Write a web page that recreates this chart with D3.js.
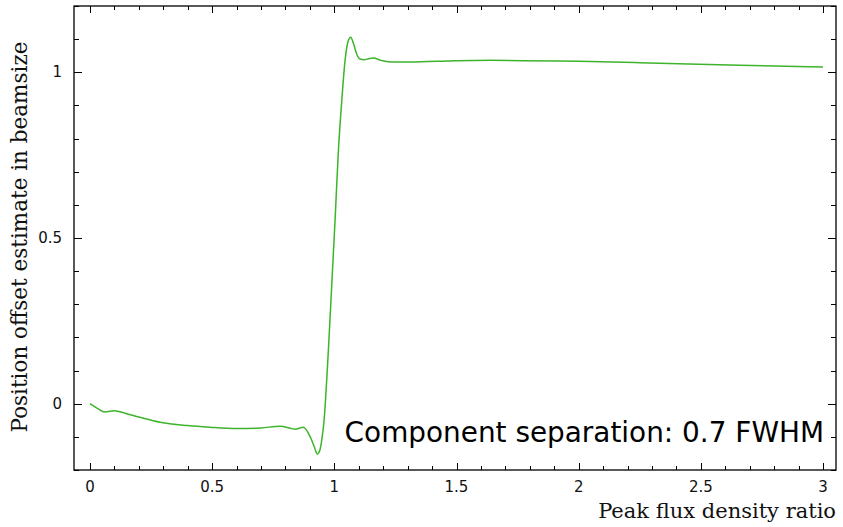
<!DOCTYPE html>
<html><head><meta charset="utf-8">
<script src="https://cdn.jsdelivr.net/npm/d3@7"></script>
<style>body{margin:0;background:#fff}</style>
</head><body>
<svg id="c" width="843" height="527"></svg>
<script>
const ratio = [0, 0.03, 0.061, 0.10, 0.15, 0.2, 0.287, 0.4, 0.49, 0.6, 0.7, 0.778, 0.82, 0.839, 0.873, 0.90, 0.918, 0.930, 0.940, 0.948, 0.958, 0.975, 0.989, 1.003, 1.016, 1.030, 1.044, 1.055, 1.067, 1.079, 1.091, 1.105, 1.121, 1.14, 1.16, 1.19, 1.228, 1.31, 1.5, 1.64, 2.0, 2.25, 2.66, 3.0];
const offset = [0, -0.014, -0.025, -0.021, -0.030, -0.040, -0.056, -0.066, -0.071, -0.075, -0.073, -0.068, -0.074, -0.077, -0.071, -0.098, -0.13, -0.152, -0.142, -0.112, -0.05, 0.153, 0.353, 0.554, 0.755, 0.91, 1.036, 1.09, 1.106, 1.085, 1.056, 1.04, 1.038, 1.041, 1.043, 1.036, 1.031, 1.031, 1.035, 1.036, 1.033, 1.029, 1.021, 1.016];
const xMajor = [0, 0.5, 1, 1.5, 2, 2.5, 3];
const xMajorLabels = ["0", "0.5", "1", "1.5", "2", "2.5", "3"];
const yMajor = [0, 0.5, 1];
const yMajorLabels = ["0", "0.5", "1"];
const xMinor = d3.range(0, 31).map(i => i / 10);
const yMinor = d3.range(-2, 13).map(i => i / 10);
const annotation = "Component separation: 0.7 FWHM";
const xTitle = "Peak flux density ratio";
const yTitle = "Position offset estimate in beamsize";

const L = 74, R = 836, T = 6, B = 470;
const x = d3.scaleLinear().domain([-0.0655, 3.0532]).range([L, R]);
const y = d3.scaleLinear().domain([-0.2, 1.2]).range([B, T]);
const svg = d3.select("#c");

// curve
const pts = ratio.map((r, i) => [r, offset[i]]);
svg.append("path").datum(pts)
  .attr("fill", "none").attr("stroke", "#3db42b").attr("stroke-width", 1.5)
  .attr("d", d3.line().x(d => x(d[0])).y(d => y(d[1])).curve(d3.curveMonotoneX));

// ticks
const tk = svg.append("g").attr("stroke", "#000").attr("stroke-width", 1);
const isMaj = (v, arr) => arr.some(a => Math.abs(a - v) < 1e-9);
xMinor.forEach(v => {
  const len = isMaj(v, xMajor) ? 7 : 4;
  const px = Math.round(x(v)) + 0.5;
  tk.append("line").attr("x1", px).attr("x2", px).attr("y1", B).attr("y2", B - len);
  tk.append("line").attr("x1", px).attr("x2", px).attr("y1", T).attr("y2", T + len);
});
yMinor.forEach(v => {
  const len = isMaj(v, yMajor) ? 8 : 5;
  const py = Math.round(y(v)) + 0.5;
  tk.append("line").attr("y1", py).attr("y2", py).attr("x1", L).attr("x2", L + len);
  tk.append("line").attr("y1", py).attr("y2", py).attr("x1", R).attr("x2", R - len);
});

// frame
svg.append("rect").attr("x", L).attr("y", T).attr("width", R - L).attr("height", B - T)
  .attr("fill", "none").attr("stroke", "#000").attr("stroke-width", 1.3);

// tick labels
const tf = "DejaVu Sans, sans-serif";
svg.append("g").selectAll("text").data(xMajor).join("text")
  .attr("x", d => x(d)).attr("y", 492).attr("text-anchor", "middle")
  .attr("font-family", tf).attr("font-size", 15).attr("fill", "#111")
  .text((d, i) => xMajorLabels[i]);
svg.append("g").selectAll("text").data(yMajor).join("text")
  .attr("x", 62).attr("y", d => y(d) + 5).attr("text-anchor", "end")
  .attr("font-family", tf).attr("font-size", 15).attr("fill", "#111")
  .text((d, i) => yMajorLabels[i]);

// titles
svg.append("text").attr("x", 836).attr("y", 518).attr("text-anchor", "end")
  .attr("font-family", "DejaVu Serif, serif").attr("font-size", 21).attr("fill", "#111")
  .text(xTitle);
svg.append("text").attr("transform", "translate(27,237) rotate(-90)").attr("text-anchor", "middle")
  .attr("font-family", "DejaVu Serif, serif").attr("font-size", 21.5).attr("fill", "#111")
  .text(yTitle);

// annotation
svg.append("text").attr("x", 824).attr("y", 442).attr("text-anchor", "end")
  .attr("font-family", tf).attr("font-size", 27.9).attr("fill", "#000")
  .text(annotation);
</script>
</body></html>
